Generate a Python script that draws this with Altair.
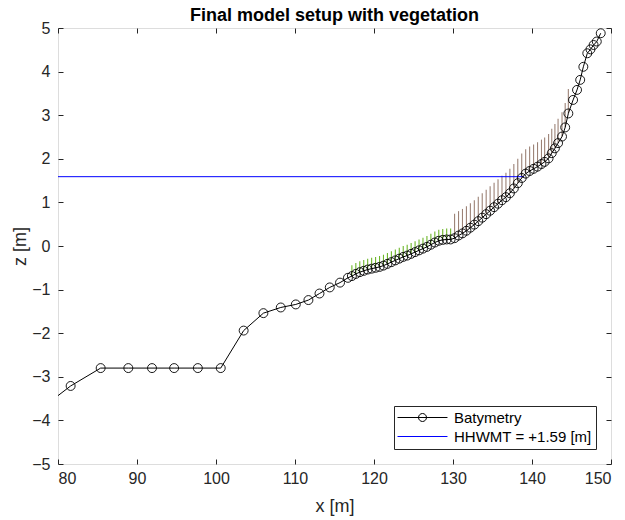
import altair as alt
import pandas as pd

# ---------------- data ----------------
profile_x = [78.5, 81.6, 85.4, 88.9, 91.9, 94.7, 97.7, 100.6, 103.5, 106.0, 108.2, 110.1,
             111.7, 113.1, 114.4, 115.7, 116.7,
             117.2, 117.7, 118.2, 118.7, 119.2, 119.7, 120.2, 120.7, 121.2, 121.7, 122.2,
             122.7, 123.2, 123.7, 124.2, 124.7, 125.2, 125.7, 126.2, 126.7, 127.2, 127.7,
             128.2, 128.7, 129.2, 129.7, 130.2, 130.7, 131.2, 131.7, 132.2, 132.7, 133.2,
             133.7, 134.2, 134.7, 135.2, 135.7, 136.2, 136.7, 137.2, 137.7, 138.2, 138.7,
             139.2, 139.7, 140.2, 140.7, 141.2,
             141.6, 142.1, 142.5, 142.9, 143.3, 143.8, 144.2, 144.6, 145.2, 145.7, 146.1,
             146.5, 147.0, 147.4, 147.8, 148.2, 148.7]
profile_z = [-3.64, -3.21, -2.80, -2.80, -2.80, -2.80, -2.80, -2.80, -1.94, -1.54, -1.41, -1.34,
             -1.24, -1.09, -0.95, -0.84, -0.73,
             -0.69, -0.64, -0.60, -0.57, -0.54, -0.52, -0.50, -0.48, -0.45, -0.41, -0.37,
             -0.33, -0.29, -0.25, -0.22, -0.18, -0.14, -0.10, -0.06, -0.02, 0.03, 0.08,
             0.12, 0.14, 0.15, 0.15, 0.18, 0.24, 0.29, 0.35, 0.42, 0.49, 0.57,
             0.65, 0.73, 0.81, 0.89, 0.97, 1.05, 1.12, 1.21, 1.32, 1.44, 1.56,
             1.66, 1.72, 1.77, 1.82, 1.88,
             1.93, 2.01, 2.13, 2.24, 2.36, 2.51, 2.72, 3.04, 3.35, 3.58, 3.81,
             4.11, 4.42, 4.51, 4.61, 4.69, 4.88]

hhwmt_x = [80.0, 139.0]
hhwmt_z = [1.59, 1.59]

veg_green_x = [117.2, 117.7, 118.2, 118.7, 119.2, 119.7, 120.2, 120.7, 121.2, 121.7, 122.2,
               122.7, 123.2, 123.7, 124.2, 124.7, 125.2, 125.7, 126.2, 126.7, 127.2, 127.7,
               128.2, 128.7, 129.2, 129.7]
veg_brown_x = [130.2, 130.7, 131.2, 131.7, 132.2, 132.7, 133.2, 133.7, 134.2, 134.7, 135.2,
               135.7, 136.2, 136.7, 137.2, 137.7, 138.2, 138.7, 139.2, 139.7, 140.2, 140.7,
               141.2, 141.6, 142.1, 142.5, 142.9, 143.3, 143.8, 144.2, 144.6]
veg_green_h = 0.25
veg_brown_h = 0.56

series_names = ["Batymetry", "HHWMT = +1.59 [m]"]
x_ticks = [80, 90, 100, 110, 120, 130, 140, 150]
y_ticks = [-5, -4, -3, -2, -1, 0, 1, 2, 3, 4, 5]

# ---------------- tables ----------------
bed = pd.DataFrame({"x": profile_x, "z": profile_z})
hh = pd.DataFrame({"x": hhwmt_x, "z": hhwmt_z})
zlookup = dict(zip(profile_x, profile_z))
green = pd.DataFrame({"x": veg_green_x,
                      "z0": [zlookup[v] for v in veg_green_x],
                      "z1": [zlookup[v] + veg_green_h for v in veg_green_x]})
brown = pd.DataFrame({"x": veg_brown_x,
                      "z0": [zlookup[v] for v in veg_brown_x],
                      "z1": [zlookup[v] + veg_brown_h for v in veg_brown_x]})
leg = pd.DataFrame({"series": series_names, "x": [profile_x[0]] * 2, "z": [profile_z[0]] * 2})

W, H = 553, 436
AX = "#262626"
FONT = "Liberation Sans"
XS = alt.Scale(domain=[80, 150], nice=False, zero=False)
YS = alt.Scale(domain=[-5, 5], nice=False, zero=False)


def tick_axis(orient, offset, values):
    return alt.Axis(orient=orient, offset=offset, values=values, labels=False, domain=False,
                    ticks=True, tickSize=5, tickColor=AX, tickWidth=1, grid=False, title=None)


green_layer = alt.Chart(green).mark_rule(strokeWidth=1.1, color="#6db62a", clip=True).encode(
    x=alt.X("x:Q", scale=XS, axis=tick_axis("bottom", -H, x_ticks)),
    y=alt.Y("z0:Q", scale=YS, axis=tick_axis("left", -W, y_ticks)),
    y2="z1:Q",
)

brown_layer = alt.Chart(brown).mark_rule(strokeWidth=1.1, color="#9c8276", clip=True).encode(
    x=alt.X("x:Q", scale=XS, axis=None),
    y=alt.Y("z0:Q", scale=YS, axis=None),
    y2="z1:Q",
)

hh_layer = alt.Chart(hh).mark_line(color="#0000ff", strokeWidth=1, clip=True).encode(
    x=alt.X("x:Q", scale=XS, axis=None),
    y=alt.Y("z:Q", scale=YS, axis=None),
)

bed_line = alt.Chart(bed).mark_line(color="black", strokeWidth=1, clip=True).encode(
    x=alt.X("x:Q", scale=XS,
            axis=alt.Axis(orient="bottom", values=x_ticks, ticks=False, domain=False, grid=False,
                          labelFont=FONT, labelFontSize=16, labelColor=AX, labelPadding=6,
                          title="x [m]", titleFont=FONT, titleFontSize=18, titleFontWeight="normal",
                          titleColor=AX, titleY=42, titleBaseline="middle")),
    y=alt.Y("z:Q", scale=YS,
            axis=alt.Axis(orient="left", values=y_ticks, ticks=False, domain=False, grid=False,
                          labelFont=FONT, labelFontSize=16, labelColor=AX, labelPadding=8,
                          title="z [m]", titleFont=FONT, titleFontSize=18, titleFontWeight="normal",
                          titleColor=AX, titleX=-38, titleBaseline="middle")),
)

bed_pts = alt.Chart(bed).mark_point(shape="circle", filled=False, size=80, color="black",
                                    strokeWidth=0.9, clip=True, opacity=1).encode(
    x=alt.X("x:Q", scale=XS, axis=tick_axis("top", -H, x_ticks)),
    y=alt.Y("z:Q", scale=YS, axis=tick_axis("right", -W, y_ticks)),
)

bat_symbol = "M-4,0L4,0M-0.64,0A0.64,0.64,0,1,0,0.64,0A0.64,0.64,0,1,0,-0.64,0"
hh_symbol = "M-4,0L4,0"

legend_props = dict(title=None, orient="bottom-right", offset=15,
                    strokeColor=AX, fillColor="white", padding=4,
                    labelFont=FONT, labelFontSize=15, labelColor="black",
                    symbolSize=156, symbolStrokeWidth=1, symbolOffset=17, labelOffset=24,
                    rowPadding=3, symbolOpacity=1)

legend_layer = alt.Chart(leg).mark_point(filled=False, opacity=0, clip=True).encode(
    x=alt.X("x:Q", scale=XS, axis=None),
    y=alt.Y("z:Q", scale=YS, axis=None),
    color=alt.Color("series:N", scale=alt.Scale(domain=series_names, range=["black", "#0000ff"]),
                    legend=alt.Legend(**legend_props)),
    shape=alt.Shape("series:N", scale=alt.Scale(domain=series_names, range=[bat_symbol, hh_symbol]),
                    legend=alt.Legend(**legend_props)),
)

chart = alt.layer(green_layer, brown_layer, hh_layer, bed_line, bed_pts, legend_layer).resolve_axis(
    x="independent", y="independent"
).properties(
    width=W, height=H,
    title=alt.Title("Final model setup with vegetation", font=FONT, fontSize=18, fontWeight="bold",
                    color="black", anchor="middle", frame="group", offset=3, dy=22,
                    baseline="alphabetic"),
    padding={"left": 58, "top": 28, "right": 14, "bottom": 56},
    autosize="none",
).configure_view(stroke=AX, strokeWidth=1).configure(background="white")

chart.save("out.html", embed_options={"renderer": "svg", "actions": False})
